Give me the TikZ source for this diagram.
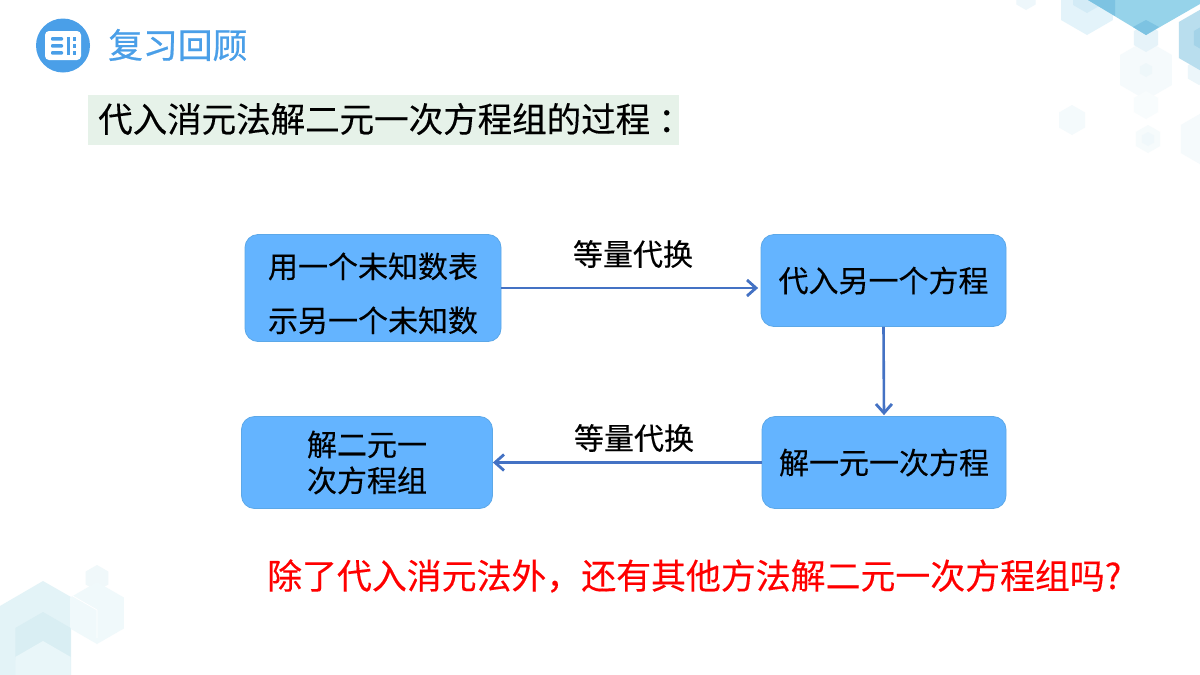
\documentclass[tikz,border=0pt]{standalone}
\usepackage{fontspec}
\setmainfont[FakeBold=0.25]{Noto Sans CJK SC}
\newfontfamily\titlefont[FakeBold=0.6]{Noto Sans CJK SC}
\usetikzlibrary{arrows.meta}
\definecolor{boxblue}{HTML}{64B4FF}
\definecolor{boxedge}{HTML}{5CA8E8}
\definecolor{arrowblue}{HTML}{4472C4}
\definecolor{titleblue}{HTML}{4A9FE8}
\definecolor{headbg}{HTML}{E6F2E9}
\newcommand{\hexb}[4]{\definecolor{tmphex}{HTML}{#4}\fill[tmphex] (#1,#2-#3) -- (#1+.866*#3,#2-.5*#3) -- (#1+.866*#3,#2+.5*#3) -- (#1,#2+#3) -- (#1-.866*#3,#2+.5*#3) -- (#1-.866*#3,#2-.5*#3) -- cycle;}
\newcommand{\shiftedpunct}[2]{\makebox[1em][l]{\hspace{#1}#2}}
\tikzset{
  x=1pt,y=-1pt,
  flowbox/.style={draw=boxedge,line width=.8pt,fill=boxblue,rounded corners=13pt,inner sep=0pt,align=center,text=black,font=\fontsize{30}{42}\selectfont},
  flow/.style={draw=arrowblue,line width=2.6pt,-{Straight Barb[length=9pt,width=16pt,line width=2.8pt]}},
  lbl/.style={text=black,inner sep=0pt,font=\fontsize{30}{36}\selectfont},
}
\begin{document}
\begin{tikzpicture}
\useasboundingbox (0,0) rectangle (1200,675);
\fill[white] (0,0) rectangle (1200,675);
% top-right decoration
\hexb{1087}{5}{30}{E3F3FA}
\hexb{1087}{-3}{16}{D3EBF6}
\hexb{1026}{-1}{11}{EEF7FB}
\hexb{1146}{70}{30}{F5FAFC}
\hexb{1146}{70}{7}{EEF7FA}
\hexb{1146}{38}{14}{E6F3F9}
\hexb{1146}{105}{14}{F8FCFD}
\hexb{1072}{120}{15}{F4FAFC}
\hexb{1148}{139}{14}{F6FBFC}
\hexb{1148}{139}{7}{F0F8FB}
\hexb{1205}{139}{28}{F5FAFC}
\hexb{1199}{72}{13}{ECF6FA}
\hexb{1210}{40}{36}{B9DEEE}
\hexb{1206}{38}{14}{A4D3E8}
\fill[fill={rgb,255:red,150;green,211;blue,234}] (1088,0) -- (1146,35) -- (1200,4) -- (1200,0) -- cycle;
\fill[fill={rgb,255:red,125;green,195;blue,226}] (1088,0) -- (1115,16) -- (1115,0) -- cycle;
\fill[fill={rgb,255:red,125;green,195;blue,226}] (1133,27) -- (1146,20) -- (1159,27) -- (1146,35) -- cycle;
% bottom-left decoration
\definecolor{blA}{HTML}{E3F3F7}
\fill[blA] (43,581) -- (71,597) -- (71,675) -- (0,675) -- (0,606) -- cycle;
\hexb{97}{578}{13}{F0F8FA}
\hexb{97}{613}{31}{F0F9FB}
\draw[white,line width=.8pt] (71,595) -- (97,610) -- (97,638);
\hexb{43}{644}{32}{D9EEF3}
\hexb{43}{673}{32}{E9F6F9}
% header
\fill[titleblue] (63,45.5) circle (27);
\fill[white,rounded corners=4pt] (45,31) rectangle (81,60);
\fill[titleblue,rounded corners=1pt] (51,37) rectangle (63,40.5);
\fill[titleblue,rounded corners=1pt] (51,44) rectangle (63,47.5);
\fill[titleblue,rounded corners=1pt] (51,51) rectangle (63,54.5);
\fill[titleblue] (66.5,37) rectangle (69.5,54.5);
\fill[titleblue] (73,37) rectangle (76,40.5);
\fill[titleblue] (73,44) rectangle (76,47.5);
\fill[titleblue] (73,51) rectangle (76,54.5);
\node[anchor=west,inner sep=0pt,text=titleblue,font=\fontsize{34.8}{40}\titlefont] (title) at (108,45) {复习回顾};
\node[anchor=west,fill=headbg,minimum width=591pt,minimum height=50pt,inner sep=0pt] (headbox) at (88,119.5) {};
\node[anchor=west,inner sep=0pt,text=black,font=\fontsize{34.5}{40}\selectfont] (head) at (98,119) {代入消元法解二元一次方程组的过程\shiftedpunct{.23em}{：}};
% flow
\node[flowbox,minimum width=256pt,minimum height=107pt,font=\fontsize{30}{54}\selectfont] (b1) at (373,288) {\rule{0pt}{36pt}用一个未知数表\\示另一个未知数};
\node[flowbox,minimum width=245pt,minimum height=92pt] (b2) at (883.5,280.5) {代入另一个方程};
\node[flowbox,minimum width=244pt,minimum height=92pt] (b3) at (884,462.5) {解一元一次方程};
\node[flowbox,minimum width=251pt,minimum height=92pt,font=\fontsize{30}{36}\selectfont] (b4) at (367,462.5) {解二元一\\次方程组};
\draw[flow,shorten >=2.5pt] (b1.east) -- (b2.west |- b1.east);
\draw[flow,shorten >=1pt] (b2.south) -- (b3.north);
\draw[flow] (b3.west) -- (b4.east);
\node[lbl] (l1) at (633,254) {等量代换};
\node[lbl] (l2) at (634,438) {等量代换};
\node[anchor=west,inner sep=0pt,text=red,font=\fontsize{34.9}{40}\selectfont] (q) at (267,576) {除了代入消元法外\shiftedpunct{0em}{，}还有其他方法解二元一次方程组吗?};
\end{tikzpicture}
\end{document}
